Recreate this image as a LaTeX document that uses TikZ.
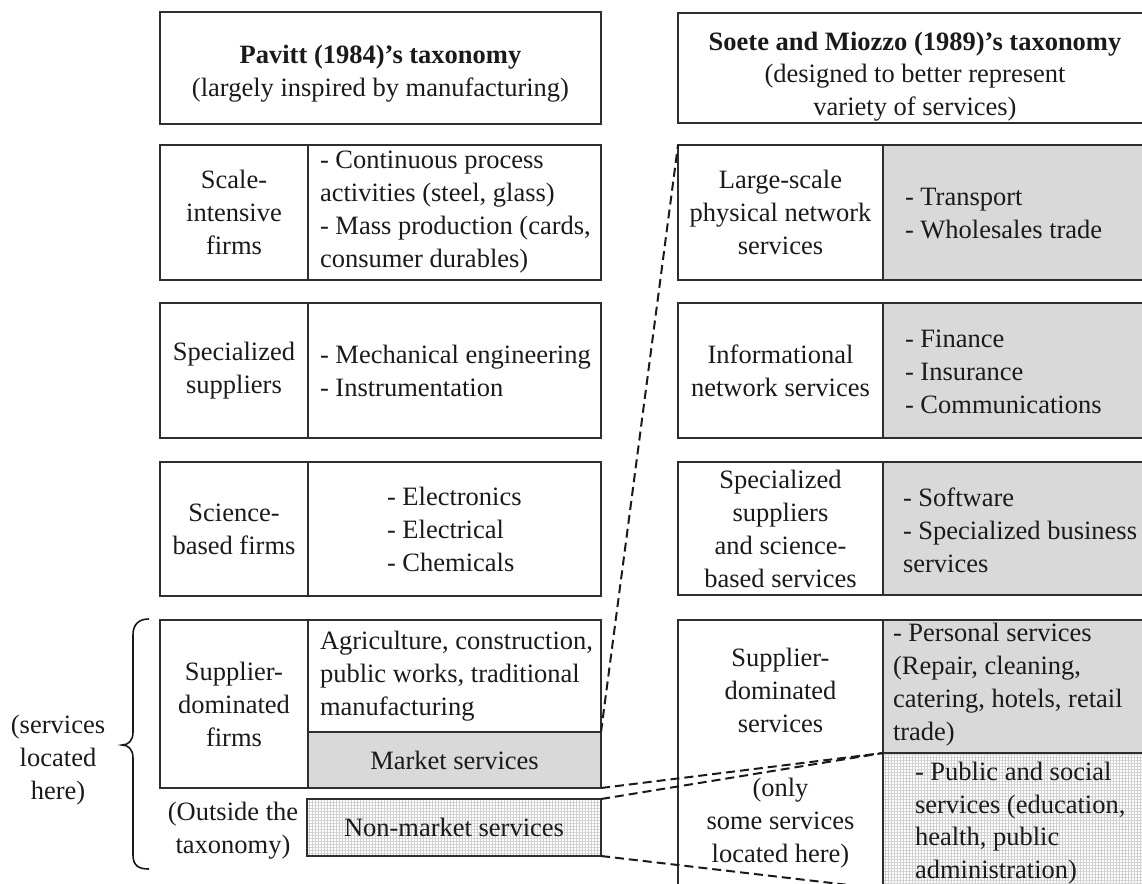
\documentclass[tikz,border=0pt]{standalone}
\usepackage{fontspec}
\setmainfont{Liberation Serif}
\usetikzlibrary{patterns.meta}
\definecolor{edge}{HTML}{2E2E2E}
\definecolor{shade}{HTML}{D9D9D9}
\definecolor{ink}{HTML}{1A1A1A}
\begin{document}
\begin{tikzpicture}[x=1pt,y=-1pt,
  every node/.style={text=ink, font=\fontsize{26.5}{33}\selectfont, inner sep=0pt, outer sep=0pt},
  cell/.style={draw=edge, line width=2.2pt},
  headbox/.style={draw=edge, line width=2.8pt},
  grey/.style={fill=shade},
  hatched/.style={preaction={fill=white}, pattern={Hatch[distance=3pt, angle=0, line width=0.4pt]}, pattern color=gray!38},
  link/.style={draw=ink, line width=2pt, dash pattern=on 9pt off 5pt},
  brace/.style={draw=ink, line width=1.6pt}]
\useasboundingbox (0,0) rectangle (1142,883);
\clip (0,0) rectangle (1142,883);

% ---------- headers ----------
\node[headbox, minimum width=441pt, minimum height=112pt] (phead) at (380.5,68) {};
\node[align=center] (pheadt) at (380.5,74) {\textbf{Pavitt (1984)’s taxonomy}\\(largely inspired by manufacturing)};
\node[headbox, minimum width=474pt, minimum height=110pt] (shead) at (915,68) {};
\node[align=center, font=\fontsize{26.5}{32.5}\selectfont] (sheadt) at (915,76.5) {\textbf{Soete and Miozzo (1989)’s taxonomy}\\(designed to better represent\\variety of services)};

% ---------- Pavitt column ----------
% row 1
\node[cell, minimum width=148pt, minimum height=135pt] (sif) at (234,212.5) {};
\node[cell, minimum width=293pt, minimum height=135pt] (sie) at (454.5,212.5) {};
\node[align=center] (sift) at (sif) {Scale-\\intensive\\firms};
\node[align=left, anchor=west] (siet) at (320,212.5) {- Continuous process\\activities (steel, glass)\\- Mass production (cards,\\consumer durables)};
% row 2
\node[cell, minimum width=148pt, minimum height=135pt] (ssf) at (234,370.5) {};
\node[cell, minimum width=293pt, minimum height=135pt] (sse) at (454.5,370.5) {};
\node[align=center] (ssft) at (ssf) {Specialized\\suppliers};
\node[align=left, anchor=west] (sset) at (320,370.5) {- Mechanical engineering\\- Instrumentation};
% row 3
\node[cell, minimum width=148pt, minimum height=134pt] (sbf) at (234,529) {};
\node[cell, minimum width=293pt, minimum height=134pt] (sbe) at (454.5,529) {};
\node[align=center] (sbft) at (sbf) {Science-\\based firms};
\node[align=left, anchor=west] (sbet) at (387,529) {- Electronics\\- Electrical\\- Chemicals};
% row 4
\node[cell, minimum width=148pt, minimum height=168pt] (sdf) at (234,704) {};
\node[cell, minimum width=293pt, minimum height=112pt] (sde) at (454.5,676) {};
\node[cell, grey, minimum width=293pt, minimum height=56pt] (mkt) at (454.5,760) {};
\node[align=center] (sdft) at (sdf) {Supplier-\\dominated\\firms};
\node[align=left, anchor=west] (sdet) at (320,676) {Agriculture, construction,\\public works, traditional\\manufacturing};
\node (mktt) at (mkt) {Market services};
% outside the taxonomy
\node[cell, hatched, minimum width=294pt, minimum height=57pt] (nmkt) at (454,827.5) {};
\node (nmktt) at (nmkt) {Non-market services};
\node[align=center] (outt) at (233,831) {(Outside the\\taxonomy)};
\node[align=center] (herel) at (58,760) {(services\\located\\here)};
\draw[brace] (149,619) .. controls (139,619) and (133,624) .. (133,635) -- (133,732)
  .. controls (133,741) and (128,745) .. (122,745)
  .. controls (128,745) and (133,749) .. (133,758) -- (133,855)
  .. controls (133,866) and (139,869) .. (149,869);

% ---------- Soete and Miozzo column ----------
% row 1
\node[cell, minimum width=205pt, minimum height=135pt] (lsn) at (780.5,212.5) {};
\node[cell, grey, minimum width=269pt, minimum height=135pt] (lse) at (1017.5,212.5) {};
\node[align=center] (lsnt) at (lsn) {Large-scale\\physical network\\services};
\node[align=left, anchor=west] (lset) at (905,214) {- Transport\\- Wholesales trade};
% row 2
\node[cell, minimum width=205pt, minimum height=135pt] (inn) at (780.5,370.5) {};
\node[cell, grey, minimum width=269pt, minimum height=135pt] (ine) at (1017.5,370.5) {};
\node[align=center] (innt) at (inn) {Informational\\network services};
\node[align=left, anchor=west] (inet) at (905,372) {- Finance\\- Insurance\\- Communications};
% row 3
\node[cell, minimum width=205pt, minimum height=133pt] (ssn) at (780.5,528.5) {};
\node[cell, grey, minimum width=269pt, minimum height=133pt] (sse2) at (1017.5,528.5) {};
\node[align=center] (ssnt) at (ssn) {Specialized\\suppliers\\and science-\\based services};
\node[align=left, anchor=west] (sset2) at (903,530) {- Software\\- Specialized business\\services};
% row 4
\node[cell, minimum width=205pt, minimum height=269pt] (sdn) at (780.5,754.5) {};
\node[cell, grey, minimum width=269pt, minimum height=133pt] (pers) at (1017.5,686.5) {};
\node[cell, hatched, minimum width=269pt, minimum height=136pt] (pub) at (1017.5,821) {};
\node[align=center] (sdnt) at (780.5,690) {Supplier-\\dominated\\services};
\node[align=center] (somet) at (780.5,823) {(only\\some services\\located here)};
\node[align=left, anchor=west] (perst) at (893,685) {- Personal services\\(Repair, cleaning,\\catering, hotels, retail\\trade)};
\node[align=left, anchor=west, font=\fontsize{26.5}{32.5}\selectfont] (pubt) at (915,823) {- Public and social\\services (education,\\health, public\\administration)};

% ---------- links between the taxonomies ----------
\draw[link] (mkt.north east) -- (lsn.north west);
\draw[link] (mkt.south east) -- (pub.north west);
\draw[link] (nmkt.north east) -- (pub.north west);
\draw[link] (nmkt.south east) -- (pub.south west);
\end{tikzpicture}
\end{document}
